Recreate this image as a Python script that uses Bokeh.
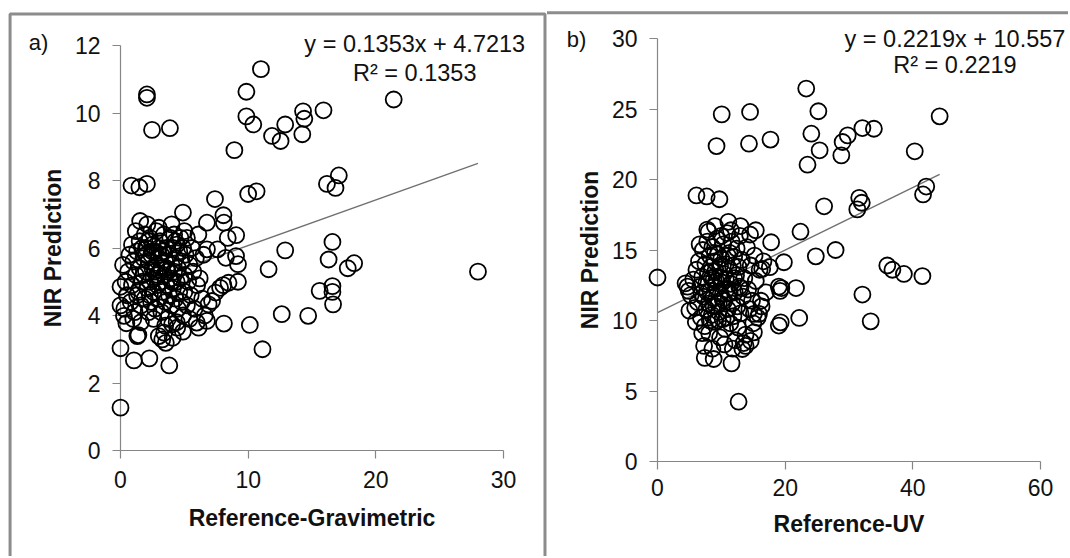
from bokeh.plotting import figure
from bokeh.layouts import row, column
from bokeh.models import Range1d, FixedTicker, ColumnDataSource
from bokeh.core.properties import value
from bokeh.embed import file_html
from bokeh.resources import INLINE

# ---------------- data ----------------
grav_points = [
    (11.0, 11.3), (9.86, 10.63), (9.86, 9.9), (10.4, 9.66), (11.87, 9.32), (12.54, 9.17),
    (12.9, 9.66), (14.24, 9.37), (14.3, 10.05), (14.4, 9.83), (15.9, 10.08), (21.4, 10.4),
    (8.92, 8.9), (2.07, 10.55), (2.07, 10.45), (2.47, 9.5), (3.87, 9.55), (0.86, 7.85),
    (1.48, 7.8), (2.07, 7.9), (7.4, 7.45), (10.0, 7.6), (10.66, 7.68), (16.17, 7.9),
    (16.84, 7.78), (17.1, 8.15), (1.54, 6.8), (4.89, 7.05), (6.77, 6.75), (8.06, 6.97),
    (8.1, 6.75), (8.4, 6.3), (9.06, 6.38), (12.9, 5.93), (11.6, 5.37), (16.6, 6.18),
    (16.3, 5.66), (17.8, 5.4), (18.3, 5.55), (28.0, 5.3), (7.6, 5.96), (8.25, 5.71),
    (9.05, 5.76), (9.2, 5.52), (6.77, 5.96), (15.6, 4.73), (16.6, 4.87), (16.6, 4.7),
    (16.65, 4.33), (14.7, 3.99), (12.63, 4.04), (10.13, 3.72), (11.12, 3.0), (8.1, 3.76),
    (9.2, 5.0), (8.05, 4.9), (8.46, 4.97), (7.44, 4.68), (6.9, 4.33), (5.97, 3.79),
    (6.77, 3.84), (0.0, 3.03), (1.05, 2.67), (2.26, 2.73), (3.82, 2.52), (0.0, 1.27),
    (0.46, 3.77), (1.4, 3.42), (3.0, 3.39), (3.42, 3.49), (3.55, 3.19), (4.09, 3.34),
    (4.89, 3.52), (0.0, 4.85), (0.0, 4.3), (7.8, 4.82), (7.17, 4.43), (6.12, 3.64),
    (4.05, 3.74), (4.44, 3.64), (3.27, 3.29), (1.32, 3.39), (0.27, 3.99),
    (0.3, 4.2), (0.5, 4.6), (0.4, 5.0), (0.6, 5.3), (0.8, 4.4), (0.9, 4.9), (1.0, 5.6),
    (1.1, 4.1), (1.2, 5.2), (1.3, 5.9), (1.4, 4.7), (1.5, 6.2), (1.5, 5.4), (1.6, 4.3),
    (1.7, 5.0), (1.8, 5.7), (1.9, 6.4), (1.9, 4.5), (2.0, 5.3), (2.0, 6.0), (2.1, 4.8),
    (2.2, 5.6), (2.2, 4.1), (2.3, 6.3), (2.3, 5.0), (2.4, 5.8), (2.4, 4.4), (2.5, 5.4),
    (2.5, 6.1), (2.6, 4.7), (2.6, 5.1), (2.7, 5.9), (2.7, 4.2), (2.8, 5.5), (2.8, 6.5),
    (2.9, 4.9), (2.9, 5.2), (3.0, 5.7), (3.0, 4.5), (3.1, 6.2), (3.1, 5.0), (3.2, 4.1),
    (3.2, 5.4), (3.3, 5.9), (3.3, 4.7), (3.4, 6.4), (3.4, 5.2), (3.5, 4.4), (3.5, 5.6),
    (3.6, 6.0), (3.6, 4.9), (3.7, 5.3), (3.7, 3.9), (3.8, 5.8), (3.8, 4.6), (3.9, 6.3),
    (3.9, 5.1), (4.0, 4.3), (4.0, 5.5), (4.1, 6.0), (4.1, 4.8), (4.2, 5.3), (4.2, 6.4),
    (4.3, 4.5), (4.3, 5.7), (4.4, 5.0), (4.4, 6.1), (4.5, 4.2), (4.5, 5.4), (4.6, 5.9),
    (4.6, 4.7), (4.7, 6.3), (4.7, 5.1), (4.8, 4.4), (4.8, 5.6), (4.9, 6.0), (4.9, 4.0),
    (5.0, 5.2), (5.0, 4.7), (5.1, 5.8), (5.2, 6.3), (5.2, 4.3), (5.3, 5.0), (5.4, 5.5),
    (5.5, 4.6), (5.6, 6.0), (5.7, 5.3), (5.8, 4.2), (5.9, 5.7), (6.0, 4.9), (6.1, 6.4),
    (6.2, 5.1), (6.4, 4.5), (6.5, 5.8), (6.6, 4.0), (0.7, 5.8), (1.0, 3.9), (1.2, 6.5),
    (1.6, 3.8), (2.1, 6.7), (2.6, 3.9), (3.0, 6.6), (3.5, 3.7), (4.0, 6.7), (4.4, 3.8),
    (5.0, 6.5), (5.4, 3.9), (0.2, 5.5), (0.9, 6.1), (1.3, 4.6), (1.8, 5.2), (2.3, 4.6),
    (2.7, 5.3), (3.2, 5.8), (3.6, 5.4), (4.0, 5.0), (4.3, 6.2), (2.0, 5.8), (2.5, 5.9),
    (3.0, 6.0), (1.7, 6.0), (2.2, 6.2),
]

uv_points = [
    (0.0, 13.05), (4.4, 12.64), (4.7, 12.4), (5.0, 10.7), (4.9, 12.1), (6.1, 18.87),
    (7.7, 18.8), (9.7, 18.6), (10.06, 24.62), (9.25, 22.37), (14.5, 24.79), (14.33, 22.54),
    (17.7, 22.83), (23.3, 26.45), (24.1, 23.25), (25.2, 24.84), (25.4, 22.07), (23.5, 21.05),
    (28.8, 21.71), (29.0, 22.66), (29.8, 23.13), (32.1, 23.65), (33.9, 23.6), (40.3, 22.0),
    (44.2, 24.48), (42.1, 19.5), (41.6, 18.94), (31.6, 18.7), (32.0, 18.35), (31.3, 17.88),
    (26.1, 18.1), (22.4, 16.3), (24.8, 14.55), (27.9, 15.0), (36.0, 13.9), (36.8, 13.6),
    (38.6, 13.3), (41.5, 13.15), (32.1, 11.84), (33.4, 9.94), (19.8, 14.13), (17.8, 15.55),
    (19.0, 12.4), (19.2, 12.1), (19.4, 12.3), (21.7, 12.3), (19.3, 9.87), (19.0, 9.64),
    (22.2, 10.18), (12.7, 4.24), (11.6, 6.96), (7.4, 7.35), (8.8, 7.27), (13.3, 7.98),
    (13.8, 8.2), (14.6, 8.55), (15.1, 9.16), (7.0, 9.1), (16.4, 13.66), (17.6, 13.78),
    (15.4, 16.4), (13.0, 16.7), (11.1, 17.0), (7.8, 16.45), (16.2, 11.4), (15.1, 10.47),
    (15.9, 10.47),
    (5.2, 11.8), (5.6, 12.9), (5.9, 10.9), (6.1, 13.6), (6.3, 11.3), (6.5, 14.2),
    (6.7, 12.4), (6.8, 10.2), (7.0, 13.1), (7.1, 15.0), (7.2, 11.7), (7.4, 9.6),
    (7.5, 14.0), (7.6, 12.6), (7.7, 10.8), (7.8, 15.6), (7.9, 13.4), (8.0, 11.2),
    (8.1, 9.1), (8.2, 14.6), (8.3, 12.1), (8.4, 13.8), (8.5, 10.4), (8.6, 15.2),
    (8.7, 11.6), (8.8, 12.9), (8.9, 14.2), (9.0, 9.9), (9.1, 13.5), (9.2, 11.0),
    (9.3, 15.8), (9.4, 12.3), (9.5, 14.7), (9.6, 10.6), (9.7, 13.1), (9.8, 8.8),
    (9.9, 11.9), (10.0, 14.4), (10.1, 12.7), (10.2, 10.1), (10.3, 15.4), (10.4, 13.3),
    (10.5, 11.4), (10.6, 9.4), (10.7, 14.0), (10.8, 12.2), (10.9, 16.2), (11.0, 10.8),
    (11.1, 13.7), (11.2, 11.9), (11.3, 14.8), (11.4, 9.8), (11.5, 12.6), (11.6, 15.6),
    (11.7, 11.2), (11.8, 13.9), (11.9, 10.3), (12.0, 14.5), (12.1, 12.0), (12.2, 8.6),
    (12.3, 13.2), (12.4, 15.1), (12.5, 11.0), (12.6, 9.5), (12.7, 13.8), (12.8, 12.4),
    (12.9, 16.0), (13.0, 10.5), (13.2, 14.3), (13.4, 11.7), (13.6, 13.0), (13.8, 9.0),
    (14.0, 15.2), (14.2, 12.2), (14.4, 10.8), (14.6, 13.9), (14.8, 11.4), (15.0, 9.8),
    (15.2, 14.6), (15.4, 12.8), (15.7, 10.2), (16.0, 13.6), (16.3, 11.0), (16.6, 14.2),
    (17.0, 12.0), (8.0, 16.3), (9.0, 16.7), (10.0, 16.0), (11.5, 16.4), (6.6, 15.4),
    (14.5, 16.1), (6.0, 9.9), (7.3, 8.2), (8.6, 8.0), (10.5, 8.3), (11.8, 8.0),
    (13.5, 8.4), (9.2, 12.8), (9.8, 13.9), (10.2, 11.5), (10.7, 12.9), (11.0, 14.6),
    (8.8, 11.0), (9.5, 10.0), (8.5, 13.0), (10.0, 13.0), (11.3, 12.0), (9.0, 14.8),
    (7.8, 12.0), (12.0, 13.0), (13.0, 12.3), (9.6, 11.2), (10.8, 10.2), (8.2, 10.0),
    (6.9, 11.9),
]

grav_xticks = [0, 10, 20, 30]
grav_yticks = [0, 2, 4, 6, 8, 10, 12]
uv_xticks = [0, 20, 40, 60]
uv_yticks = [0, 5, 10, 15, 20, 25, 30]

grav_fit = (0.1353, 4.7213)
uv_fit = (0.2219, 10.557)
grav_eq = ["y = 0.1353x + 4.7213", "R\u00b2 = 0.1353"]
uv_eq = ["y = 0.2219x + 10.557", "R\u00b2 = 0.2219"]

FONT = "Liberation Sans"
AXIS_GRAY = "#868686"
BORDER_GRAY = "#8c8c8c"
TXT = "#111111"
H = 556


def make_panel(points, xticks, yticks, xlabel, fit, eq, tag,
               width, mb, eq_pos, tag_pos, border_x, border_y, x_standoffs):
    xs = [p[0] for p in points]
    ys = [p[1] for p in points]
    p = figure(width=width, height=H, output_backend="svg",
               toolbar_location=None,
               x_range=Range1d(xticks[0], xticks[-1]),
               y_range=Range1d(yticks[0], yticks[-1]),
               min_border_left=mb[0], min_border_right=mb[1],
               min_border_top=mb[2], min_border_bottom=mb[3])
    p.outline_line_color = None
    p.xgrid.visible = False
    p.ygrid.visible = False
    p.background_fill_color = "white"
    p.border_fill_color = "white"

    for ax, ticks in ((p.xaxis[0], xticks), (p.yaxis[0], yticks)):
        ax.ticker = FixedTicker(ticks=ticks)
        ax.axis_line_color = AXIS_GRAY
        ax.axis_line_width = 1.2
        ax.major_tick_line_color = AXIS_GRAY
        ax.major_tick_line_width = 1.2
        ax.major_tick_out = 8
        ax.major_tick_in = 0
        ax.minor_tick_line_color = None
        ax.major_label_text_font = FONT
        ax.major_label_text_font_size = "23px"
        ax.major_label_text_color = TXT
        ax.major_label_standoff = 12
        ax.axis_label_text_font = FONT
        ax.axis_label_text_font_size = "23px"
        ax.axis_label_text_font_style = "bold"
        ax.axis_label_text_color = TXT
    p.xaxis[0].axis_label = xlabel
    p.xaxis[0].major_label_standoff = x_standoffs[0]
    p.xaxis[0].axis_label_standoff = x_standoffs[1]
    p.yaxis[0].axis_label = "NIR Prediction"
    p.yaxis[0].axis_label_standoff = 6

    # panel frame (grey box lines), drawn outside the plot area
    p.line(border_x, border_y, line_color=BORDER_GRAY, line_width=3,
           level="overlay")

    # trend line from the printed equation, over the data's x extent
    slope, icpt = fit
    x_end = max(xs)
    p.line([0, x_end], [icpt, icpt + slope * x_end], line_color="#707070",
           line_width=1.4)

    src = ColumnDataSource(dict(x=xs, y=ys))
    p.scatter("x", "y", source=src, size=16, fill_color=None,
              line_color="black", line_width=1.8, level="overlay")

    ex, ey1, ey2 = eq_pos
    p.text(x=[ex, ex], y=[ey1, ey2], text=eq, text_align="center",
           text_baseline="middle", text_font=value(FONT),
           text_font_size=value("23.5px"), text_color=TXT, level="overlay")
    tx, ty = tag_pos
    p.text(x=[tx], y=[ty], text=[tag], text_align="center",
           text_baseline="middle", text_font=value(FONT),
           text_font_size=value("22px"), text_color=TXT, level="overlay")
    return p


# left panel: canvas x 0..547, frame x 120..503, y 45..449.5
left = make_panel(grav_points, grav_xticks, grav_yticks, "Reference-Gravimetric",
                  grav_fit, grav_eq, "a)", 547, (120, 44, 45, H - 450),
                  (23.05, 12.03, 11.2), (-6.42, 12.1),
                  [-8.65, -8.65, 33.25, 33.25], [-4.0, 12.93, 12.93, -4.0],
                  (12, 14))
# right panel: canvas x 547..1068, frame x 657..1040, y 38..461
right = make_panel(uv_points, uv_xticks, uv_yticks, "Reference-UV",
                   uv_fit, uv_eq, "b)", 521, (110, 28, 38, H - 461),
                   (46.6, 29.95, 28.1), (-12.7, 29.9),
                   [-18.0, 66.0], [31.82, 31.82],
                   (9, 12))

# each panel in its own column so the row does not align their frames
layout = row(column(left), column(right))
open("out.html", "w").write(file_html(layout, INLINE))
